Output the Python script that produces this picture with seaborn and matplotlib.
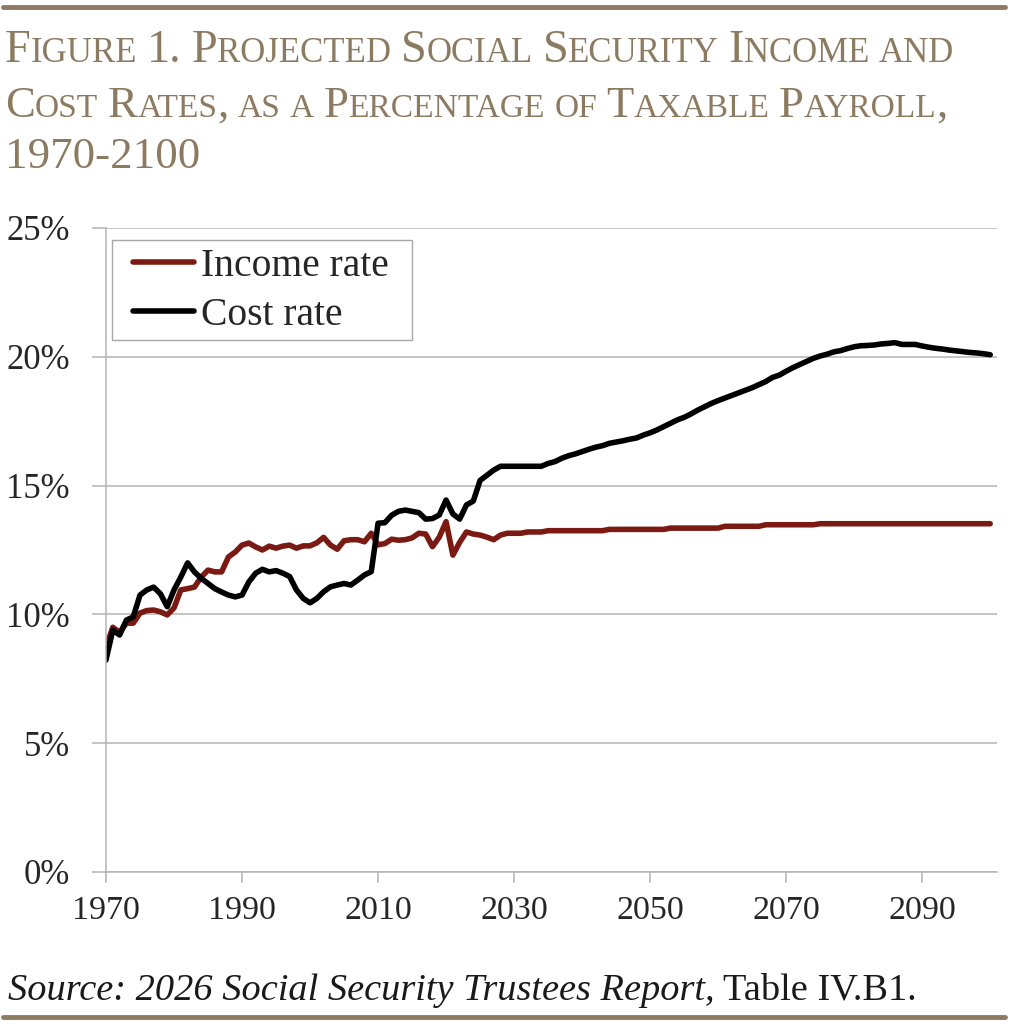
import numpy as np
import pandas as pd
import matplotlib
matplotlib.use("Agg")
import matplotlib.pyplot as plt
from matplotlib.lines import Line2D
from matplotlib.patches import Rectangle
import seaborn as sns

# ---- data ----
years = list(range(1970, 2101))

income_rate = [
    8.74, 9.50, 9.30, 9.66, 9.66, 10.05, 10.15, 10.17, 10.10, 9.98,      # 1970-79
    10.25, 10.95, 11.00, 11.06, 11.45, 11.72, 11.65, 11.65, 12.23, 12.42,  # 1980-89
    12.69, 12.77, 12.62, 12.50, 12.65, 12.57, 12.65, 12.69, 12.57, 12.66,  # 1990-99
    12.66, 12.78, 12.99, 12.69, 12.53, 12.86, 12.90, 12.90, 12.82, 13.15,  # 2000-09
    12.70, 12.75, 12.92, 12.88, 12.90, 12.97, 13.15, 13.12, 12.63, 13.00,  # 2010-19
    13.60, 12.30, 12.80, 13.20, 13.12, 13.08, 13.00, 12.90, 13.08, 13.15,  # 2020-29
    13.15, 13.15, 13.20, 13.20, 13.20, 13.25, 13.25, 13.25, 13.25, 13.25,  # 2030-39
    13.25, 13.25, 13.25, 13.25, 13.30, 13.30, 13.30, 13.30, 13.30, 13.30,  # 2040-49
    13.30, 13.30, 13.30, 13.35, 13.35, 13.35, 13.35, 13.35, 13.35, 13.35,  # 2050-59
    13.35, 13.42, 13.42, 13.42, 13.42, 13.42, 13.42, 13.48, 13.48, 13.48,  # 2060-69
    13.48, 13.48, 13.48, 13.48, 13.48, 13.52, 13.52, 13.52, 13.52, 13.52,  # 2070-79
    13.52, 13.52, 13.52, 13.52, 13.52, 13.52, 13.52, 13.52, 13.52, 13.52,  # 2080-89
    13.52, 13.52, 13.52, 13.52, 13.52, 13.52, 13.52, 13.52, 13.52, 13.52,  # 2090-99
    13.52,                                                                 # 2100
]

cost_rate = [
    8.23, 9.39, 9.20, 9.78, 9.90, 10.75, 10.95, 11.06, 10.80, 10.30,       # 1970-79
    10.95, 11.45, 12.00, 11.65, 11.40, 11.20, 11.00, 10.87, 10.75, 10.68,  # 1980-89
    10.75, 11.26, 11.60, 11.75, 11.65, 11.70, 11.60, 11.47, 10.95, 10.62,  # 1990-99
    10.45, 10.62, 10.88, 11.07, 11.14, 11.20, 11.14, 11.33, 11.53, 11.66,  # 2000-09
    13.54, 13.56, 13.85, 14.00, 14.05, 14.00, 13.95, 13.70, 13.72, 13.86,  # 2010-19
    14.44, 13.90, 13.70, 14.25, 14.40, 15.20, 15.40, 15.60, 15.75, 15.75,  # 2020-29
    15.75, 15.75, 15.75, 15.75, 15.75, 15.86, 15.93, 16.06, 16.16, 16.23,  # 2030-39
    16.32, 16.41, 16.49, 16.55, 16.64, 16.69, 16.74, 16.80, 16.85, 16.96,  # 2040-49
    17.05, 17.16, 17.29, 17.42, 17.55, 17.65, 17.78, 17.93, 18.06, 18.19,  # 2050-59
    18.30, 18.40, 18.50, 18.60, 18.70, 18.80, 18.92, 19.04, 19.20, 19.29,  # 2060-69
    19.44, 19.58, 19.70, 19.82, 19.94, 20.03, 20.10, 20.19, 20.24, 20.32,  # 2070-79
    20.39, 20.43, 20.44, 20.46, 20.50, 20.52, 20.55, 20.48, 20.48, 20.48,  # 2080-89
    20.42, 20.37, 20.33, 20.30, 20.26, 20.23, 20.20, 20.17, 20.15, 20.12,  # 2090-99
    20.08,                                                                 # 2100
]

series_names = ["Income rate", "Cost rate"]
series_colors = ["#7B1A12", "#000000"]
x_ticks = [1970, 1990, 2010, 2030, 2050, 2070, 2090]
y_ticks = [0, 5, 10, 15, 20, 25]
title_lines = ["Figure 1. Projected Social Security Income and",
               "Cost Rates, as a Percentage of Taxable Payroll,",
               "1970-2100"]
source_italic = "Source: 2026 Social Security Trustees Report,"
source_plain = "Table IV.B1."

# ---- style ----
sns.set_theme(style="white")
plt.rcParams["font.family"] = ["Liberation Serif", "DejaVu Serif"]

W, H = 1010, 1024
GOLD = "#8C7B60"
GRID = "#b4b4b4"

df = pd.DataFrame({
    "year": years + years,
    "rate": income_rate + cost_rate,
    "series": [series_names[0]] * len(years) + [series_names[1]] * len(years),
})

fig = plt.figure(figsize=(W / 100, H / 100), dpi=100)
ax = fig.add_axes([106 / W, 1 - 872 / H, (997 - 106) / W, (872 - 228) / H])

sns.lineplot(data=df, x="year", y="rate", hue="series",
             palette=dict(zip(series_names, series_colors)),
             linewidth=4.0, ax=ax, solid_joinstyle="round",
             solid_capstyle="round")

ax.set_xlim(1970, 2101)
ax.set_ylim(0, 25)
ax.set_xticks(x_ticks)
ax.set_yticks(y_ticks)
ax.set_yticklabels([f"{v}%" for v in y_ticks])
ax.set_xlabel("")
ax.set_ylabel("")
ax.yaxis.grid(True, color=GRID, linewidth=1.1)
ax.set_axisbelow(True)
for side in ["top", "right"]:
    ax.spines[side].set_visible(False)
for side in ["left", "bottom"]:
    ax.spines[side].set_color(GRID)
    ax.spines[side].set_linewidth(1.1)
ax.tick_params(axis="x", direction="out", length=8, width=1.1, color=GRID,
               labelsize=24.5, pad=9, bottom=True)
ax.tick_params(axis="y", direction="out", length=10, width=1.1, color=GRID,
               labelsize=25, pad=16, left=True)

# legend: Excel-style box drawn separately so the inner padding can be wider
ax.add_patch(Rectangle((6 / 891, (872 - 340) / 644), 300 / 891, 100 / 644,
                       transform=ax.transAxes, facecolor="white",
                       edgecolor="#a8a8a8", linewidth=1.0, zorder=4))
leg = ax.legend(loc="upper left", bbox_to_anchor=(27 / 891, 1 - 20 / 644),
                borderaxespad=0, fontsize=28.5, frameon=False,
                handlelength=1.55, handletextpad=0.18, labelspacing=0.3,
                borderpad=0)
leg.set_zorder(5)
for h in leg.get_lines():
    h.set_linewidth(4.0)

# ---- decorations: rules, small-caps title, source ----
fig.add_artist(Line2D([3 / W, 1005 / W], [1 - 7 / H] * 2, color=GOLD, lw=3.5))
fig.add_artist(Line2D([3 / W, 1005 / W], [1 - 1017 / H] * 2, color=GOLD, lw=3.5))

renderer = fig.canvas.get_renderer()


def small_caps(line, x0, y0, big, small, draw=True):
    """draw text as small caps, piece by piece; returns width in px"""
    x = x0
    words = line.split(" ")
    for i, word in enumerate(words):
        runs = []
        for ch in word:
            size = small if ch.islower() else big
            if runs and runs[-1][1] == size:
                runs[-1][0] += ch.upper()
            else:
                runs.append([ch.upper(), size])
        for s, size in runs:
            t = fig.text(x / W, 1 - y0 / H, s, fontsize=size, color=GOLD,
                         ha="left", va="baseline")
            x += t.get_window_extent(renderer).width
            if not draw:
                t.remove()
        if i < len(words) - 1:
            x += small * 0.28 * 100 / 72
    return x - x0


big0, small0 = 28, 21
for line, yb, target in zip(title_lines, [62, 117, 168], [947, 940, 195]):
    k = target / small_caps(line, 5, yb, big0, small0, draw=False)
    small_caps(line, 5, yb, big0 * k, small0 * k)

t1 = fig.text(8 / W, 1 - 1000 / H, source_italic, fontsize=27.6, style="italic",
              color="#1a1a1a", ha="left", va="baseline")
w1 = t1.get_window_extent(renderer).width
t2 = fig.text((8 + w1 + 8) / W, 1 - 1000 / H, source_plain, fontsize=27.6,
              color="#1a1a1a", ha="left", va="baseline")

fig.savefig("out.png", dpi=100)
